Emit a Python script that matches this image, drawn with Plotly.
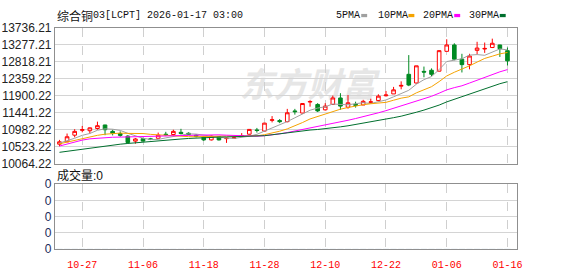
import plotly.graph_objects as go

W, H = 578, 276

dates = ["10-22", "10-23", "10-24", "10-27", "10-28", "10-29", "10-30", "10-31",
         "11-03", "11-04", "11-05", "11-06", "11-07", "11-10", "11-11", "11-12",
         "11-13", "11-14", "11-17", "11-18", "11-19", "11-20", "11-21", "11-24",
         "11-25", "11-26", "11-27", "11-28", "12-01", "12-02", "12-03", "12-04",
         "12-05", "12-08", "12-09", "12-10", "12-11", "12-12", "12-15", "12-16",
         "12-17", "12-18", "12-19", "12-22", "12-23", "12-24", "12-29", "12-30",
         "12-31", "01-02", "01-05", "01-06", "01-07", "01-08", "01-09", "01-12",
         "01-13", "01-14", "01-15", "01-16"]

opens = [10590, 10655, 10834, 10965, 10955, 11014, 11110, 10937, 10878, 10808,
         10673, 10740, 10735, 10750, 10860, 10852, 10911, 10886, 10834, 10780,
         10706, 10790, 10740, 10750, 10810, 10860, 10975, 10945, 11235, 11230,
         11200, 11490, 11433, 11730, 11665, 11520, 11665, 11840, 11590, 11670,
         11650, 11720, 11770, 11900, 11950, 12160, 12480, 12245, 12560, 12590,
         12565, 13102, 13274, 12890, 12742, 13128, 13165, 13205, 13274, 13120]
highs = [10706, 10878, 10996, 11083, 11045, 11200, 11115, 10981, 10937, 10834,
         10757, 10765, 10760, 10904, 10925, 10981, 11006, 10911, 10860, 10810,
         10830, 10810, 10770, 10790, 10890, 11000, 11030, 11165, 11350, 11270,
         11545, 11545, 11700, 11780, 11700, 11700, 11905, 11970, 11920, 11740,
         11790, 11820, 11940, 12030, 12140, 12290, 13000, 12710, 12690, 12640,
         13130, 13428, 13320, 13035, 13035, 13360, 13340, 13445, 13280, 13205]
lows = [10535, 10642, 10775, 10911, 10880, 10980, 10834, 10827, 10791, 10603,
        10603, 10665, 10700, 10745, 10808, 10817, 10852, 10834, 10775, 10680,
        10690, 10690, 10625, 10735, 10790, 10850, 10905, 10930, 11180, 11160,
        11180, 11390, 11420, 11605, 11460, 11500, 11650, 11520, 11550, 11580,
        11650, 11690, 11750, 11880, 11950, 12075, 12160, 12230, 12400, 12430,
        12560, 13100, 12860, 12530, 12615, 13017, 13060, 13190, 12950, 12720]
closes = [10655, 10791, 10937, 10985, 11032, 11091, 10981, 10886, 10827, 10636,
          10731, 10673, 10720, 10834, 10845, 10937, 10880, 10852, 10801, 10706,
          10808, 10706, 10750, 10765, 10820, 10990, 10960, 11160, 11250, 11200,
          11440, 11470, 11690, 11745, 11490, 11620, 11840, 11620, 11710, 11640,
          11750, 11735, 11890, 11920, 12060, 12180, 12190, 12710, 12540, 12480,
          13120, 13274, 12890, 12742, 12975, 13190, 13180, 13320, 13171, 12845]
volumes = [0] * 60

ma5 = [10620, 10680, 10750, 10830, 10880, 10967, 11005, 10995, 10963, 10884,
       10812, 10751, 10717, 10719, 10761, 10802, 10843, 10870, 10863, 10835,
       10809, 10775, 10754, 10747, 10770, 10806, 10857, 10939, 11036, 11112,
       11202, 11304, 11410, 11509, 11567, 11603, 11677, 11663, 11656, 11686,
       11712, 11691, 11745, 11787, 11871, 11957, 12048, 12212, 12336, 12420,
       12608, 12825, 12861, 12901, 13000, 13014, 12995, 13081, 13167, 13141]
ma10 = [10600, 10650, 10700, 10750, 10790, 10830, 10860, 10880, 10890, 10882,
        10890, 10878, 10856, 10841, 10822, 10807, 10797, 10794, 10791, 10798,
        10806, 10809, 10812, 10805, 10803, 10808, 10816, 10847, 10892, 10941,
        11004, 11081, 11175, 11273, 11340, 11403, 11491, 11537, 11583, 11627,
        11658, 11684, 11704, 11722, 11779, 11835, 11870, 11979, 12062, 12146,
        12283, 12436, 12536, 12619, 12710, 12811, 12910, 12971, 13034, 13071]
ma20 = [10540, 10600, 10650, 10700, 10735, 10755, 10770, 10778, 10782, 10785,
        10790, 10795, 10800, 10805, 10810, 10815, 10822, 10828, 10834, 10840,
        10848, 10843, 10834, 10823, 10812, 10807, 10806, 10820, 10841, 10869,
        10905, 10945, 10993, 11039, 11071, 11105, 11153, 11192, 11237, 11284,
        11331, 11382, 11439, 11497, 11559, 11619, 11680, 11758, 11822, 11886,
        11970, 12060, 12120, 12170, 12244, 12323, 12390, 12475, 12548, 12608]
ma30 = [10370, 10400, 10430, 10460, 10490, 10515, 10540, 10565, 10590, 10610,
        10630, 10650, 10668, 10685, 10700, 10715, 10730, 10745, 10758, 10768,
        10776, 10782, 10787, 10790, 10795, 10800, 10808, 10820, 10845, 10874,
        10900, 10922, 10948, 10973, 10988, 11006, 11034, 11059, 11088, 11122,
        11156, 11191, 11230, 11266, 11307, 11348, 11392, 11454, 11512, 11571,
        11648, 11734, 11805, 11871, 11943, 12016, 12090, 12162, 12226, 12281]

price_ticks = [10064.22, 10523.22, 10982.22, 11441.22, 11900.22,
               12359.22, 12818.21, 13277.21, 13736.21]
price_tick_text = ["10064.22", "10523.22", "10982.22", "11441.22", "11900.22",
                   "12359.22", "12818.21", "13277.21", "13736.21"]
date_ticks = ["10-27", "11-06", "11-18", "11-28", "12-10", "12-22", "01-06", "01-16"]
vol_ticks = [0, 1, 2, 3, 4]
vol_tick_text = ["0", "0", "0", "0", "0"]

title_cn = "综合铜"
title_rest = "03[LCPT] 2026-01-17 03:00"
ma_names = ["5PMA", "10PMA", "20PMA", "30PMA"]
ma_colors = ["#a0a0a0", "#f5a300", "#ff00ff", "#006f2e"]
vol_label = "成交量:0"

UP = "#ff0000"
DOWN = "#008a22"

fig = go.Figure()

fig.add_trace(go.Candlestick(
    x=dates, open=opens, high=highs, low=lows, close=closes,
    increasing=dict(line=dict(color=UP, width=1), fillcolor="#ffffff"),
    decreasing=dict(line=dict(color=DOWN, width=1), fillcolor=DOWN),
    whiskerwidth=0, hoverinfo="skip", showlegend=False,
    xaxis="x", yaxis="y"))

for vals, col in zip([ma5, ma10, ma20, ma30], ma_colors):
    fig.add_trace(go.Scatter(x=dates, y=vals, mode="lines",
                             line=dict(color=col, width=1),
                             hoverinfo="skip", showlegend=False,
                             xaxis="x", yaxis="y"))

fig.add_trace(go.Bar(x=dates, y=volumes, marker_color=DOWN, showlegend=False,
                     hoverinfo="skip", xaxis="x2", yaxis="y2"))

def px(x):
    return x / W

def py(y):
    return 1 - y / H

FRAME = "#8f8f8f"
GRID = "#d4d4d4"
VGRID = "#cfcfcf"
xdom = [px(55.5), px(522)]

common_x = dict(type="category", range=[-0.6, 60.2], domain=xdom,
                tickmode="array", tickvals=date_ticks, showgrid=True,
                gridcolor=VGRID, griddash="dash", gridwidth=1,
                showline=True, mirror=True, linecolor=FRAME, linewidth=1,
                zeroline=False, fixedrange=True)

fig.update_layout(
    width=W, height=H, margin=dict(l=0, r=0, t=0, b=0),
    paper_bgcolor="white", plot_bgcolor="white",
    showlegend=False, boxgap=0.32,
    xaxis=dict(common_x, anchor="y", showticklabels=False, ticks="",
               rangeslider=dict(visible=False)),
    yaxis=dict(domain=[py(165), py(22)], range=[10064.22, 13736.21],
               tickmode="array", tickvals=price_ticks, ticktext=price_tick_text,
               showgrid=True, gridcolor=GRID, gridwidth=1, zeroline=False,
               showline=True, mirror=True, linecolor=FRAME, linewidth=1,
               ticks="", tickfont=dict(family="Liberation Sans, Arial", size=12, color="#222"),
               fixedrange=True),
    xaxis2=dict(common_x, anchor="y2", matches="x", showticklabels=True,
                ticks="outside", ticklen=6, tickcolor="rgba(0,0,0,0)",
                tickfont=dict(family="Liberation Mono, monospace", size=10, color="#ff0000")),
    yaxis2=dict(domain=[py(255), py(186.7)], range=[0, 4],
                tickmode="array", tickvals=vol_ticks, ticktext=vol_tick_text,
                showgrid=True, gridcolor=GRID, gridwidth=1, zeroline=False,
                showline=True, mirror=True, linecolor=FRAME, linewidth=1,
                ticks="", tickfont=dict(family="Liberation Sans, Arial", size=12, color="#1a2a5a"),
                fixedrange=True),
)

ann = []
ann.append(dict(x=px(56), y=py(9), xref="paper", yref="paper", text=title_cn,
                showarrow=False, xanchor="left", yanchor="middle",
                font=dict(family="Noto Sans CJK SC", size=12, color="#111")))
ann.append(dict(x=px(92), y=py(9), xref="paper", yref="paper", text=title_rest,
                showarrow=False, xanchor="left", yanchor="middle",
                font=dict(family="Liberation Mono, monospace", size=10, color="#111")))

leg_text_x = [338, 380, 425, 472]
leg_dash_x = [365, 412.7, 459, 505]
shapes = []
for name, col, tx, dx in zip(ma_names, ma_colors, leg_text_x, leg_dash_x):
    ann.append(dict(x=px(tx), y=py(9), xref="paper", yref="paper", text=name,
                    showarrow=False, xanchor="left", yanchor="middle",
                    font=dict(family="Liberation Mono, monospace", size=10, color="#111")))
    shapes.append(dict(type="rect", xref="paper", yref="paper",
                       x0=px(dx), x1=px(dx + 6), y0=py(10.7), y1=py(7.3),
                       fillcolor=col, line=dict(width=0)))

ann.append(dict(x=px(56), y=py(178), xref="paper", yref="paper", text=vol_label,
                showarrow=False, xanchor="left", yanchor="middle",
                font=dict(family="Liberation Sans, Noto Sans CJK SC", size=12, color="#111")))

# faint watermark behind data
shapes.append(dict(type="rect", xref="paper", yref="paper", layer="below",
                   x0=px(232), x1=px(390), y0=py(108), y1=py(62),
                   line=dict(width=0), fillcolor="rgba(0,0,0,0)",
                   label=dict(text="<b><i>东方财富</i></b>",
                              font=dict(family="Noto Sans CJK SC", size=34, color="#e6e6e6"),
                              textposition="middle center")))

fig.update_layout(annotations=ann, shapes=shapes)

fig.write_html("out.html", config={"displayModeBar": False})
